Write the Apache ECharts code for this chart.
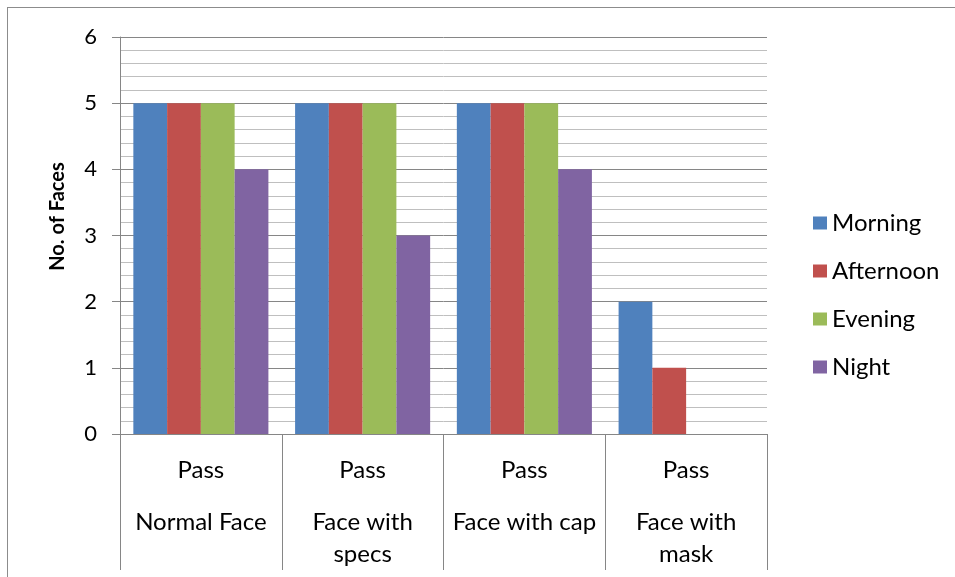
<!DOCTYPE html>
<html>
<head>
<meta charset="utf-8">
<script src="https://cdn.jsdelivr.net/npm/echarts@6/dist/echarts.min.js"></script>
<style>
  html, body { margin: 0; padding: 0; background: #ffffff; }
  #frame { position: absolute; left: 7px; top: 7px; width: 960px; height: 580px;
           border-left: 1px solid #8c8c8c; border-top: 1px solid #8c8c8c; box-sizing: border-box; }
  #chart { position: absolute; left: 0; top: 0; width: 955px; height: 577px; }
</style>
</head>
<body>
<div id="frame"></div>
<div id="chart"></div>
<script>
// Categories and group labels on the x axis
const categories = ['Normal Face', 'Face with\nspecs', 'Face with cap', 'Face with\nmask'];
const groupLabels = ['Pass', 'Pass', 'Pass', 'Pass'];

// Face counts per time of day
const morning   = [5, 5, 5, 2];
const afternoon = [5, 5, 5, 1];
const evening   = [5, 5, 5, 0];
const night     = [4, 3, 4, 0];

// Y axis ticks
const yTicks = [0, 1, 2, 3, 4, 5, 6];

const seriesNames = ['Morning', 'Afternoon', 'Evening', 'Night'];
const seriesData = [morning, afternoon, evening, night];
const colors = ['#4f81bd', '#c0504d', '#9bbb59', '#8064a2'];

const font = 'Lato, "Open Sans", sans-serif';

const chart = echarts.init(document.getElementById('chart'), null, { renderer: 'canvas' });

chart.setOption({
  animation: false,
  backgroundColor: 'transparent',
  color: colors,
  grid: { left: 120, top: 37, width: 647, height: 397, containLabel: false },
  legend: {
    orient: 'vertical',
    left: 808,
    top: 206,
    itemWidth: 14,
    itemHeight: 13,
    itemGap: 24,
    icon: 'rect',
    textStyle: { fontFamily: font, fontSize: 24, color: '#000' },
    data: seriesNames
  },
  xAxis: {
    type: 'category',
    data: categories,
    boundaryGap: true,
    axisLine: { show: true, lineStyle: { color: '#868686', width: 1 } },
    axisTick: { show: true, length: 136, alignWithLabel: false, lineStyle: { color: '#868686', width: 1 } },
    axisLabel: {
      margin: 0,
      interval: 0,
      verticalAlign: 'top',
      formatter: function (v, i) {
        const lines = v.split('\n').map(s => '{c|' + s + '}').join('\n');
        return '{p|' + groupLabels[i] + '}\n' + lines;
      },
      rich: {
        p: { fontFamily: font, fontSize: 24, color: '#000', lineHeight: 72 },
        c: { fontFamily: font, fontSize: 24, color: '#000', lineHeight: 32 }
      }
    }
  },
  yAxis: {
    type: 'value',
    min: yTicks[0],
    max: yTicks[yTicks.length - 1],
    interval: 1,
    name: 'No. of Faces',
    nameLocation: 'middle',
    nameGap: 52,
    nameRotate: 90,
    nameTextStyle: { fontFamily: font, fontSize: 20, fontWeight: 'bold', color: '#000', padding: [0, 0, 0, 38] },
    axisLine: { show: true, lineStyle: { color: '#868686', width: 1 } },
    axisTick: { show: true, length: 8, lineStyle: { color: '#868686', width: 1 } },
    axisLabel: { fontFamily: font, fontSize: 22, color: '#000', margin: 23 },
    splitLine: { show: true, lineStyle: { color: '#868686', width: 1 } },
    minorTick: { show: false, splitNumber: 5 },
    minorSplitLine: { show: true, lineStyle: { color: '#bfbfbf', width: 1 } }
  },
  series: seriesNames.map((name, k) => ({
    name: name,
    type: 'bar',
    data: seriesData[k],
    barGap: '0%',
    barCategoryGap: '16.5%',
    itemStyle: { color: colors[k] }
  }))
});
</script>
</body>
</html>
